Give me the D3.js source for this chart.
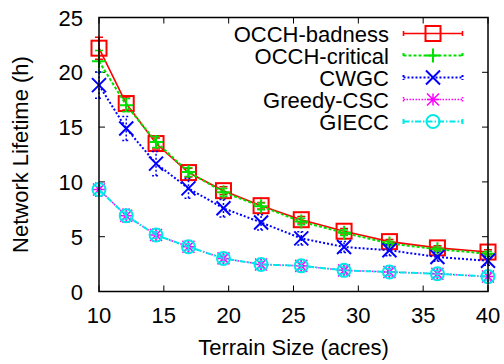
<!DOCTYPE html>
<html>
<head>
<meta charset="utf-8">
<script src="https://cdn.jsdelivr.net/npm/d3@7"></script>
<style>
  body { margin: 0; background: #fff; }
  text { font-family: "Liberation Sans", Arial, sans-serif; font-size: 22px; fill: #000; }
</style>
</head>
<body>
<div id="chart"></div>
<script>
// terrain sizes (acres)
const sizes = [10, 12.1, 14.4, 16.9, 19.6, 22.5, 25.6, 28.9, 32.4, 36.1, 40];

// lifetimes (h)
const occhBadness  = [22.2, 17.15, 13.5, 10.85, 9.2, 7.83, 6.55, 5.5, 4.55, 3.98, 3.6];
const occhCritical = [21.0, 17.0, 13.65, 10.9, 9.05, 7.77, 6.38, 5.36, 4.38, 3.86, 3.45];
const cwgc         = [18.83, 14.87, 11.67, 9.41, 7.59, 6.3, 4.85, 4.06, 3.76, 3.15, 2.8];
const greedyCsc    = [9.3, 6.92, 5.15, 4.08, 3.02, 2.47, 2.34, 1.93, 1.78, 1.62, 1.36];
const giecc        = [9.3, 6.92, 5.15, 4.08, 3.02, 2.47, 2.34, 1.93, 1.78, 1.62, 1.36];

// error bar half-widths
const errBadness  = [1.0, 0.6, 0.5, 0.4, 0.35, 0.3, 0.3, 0.25, 0.2, 0.2, 0.2];
const errCritical = [1.0, 0.6, 0.5, 0.4, 0.35, 0.3, 0.3, 0.25, 0.2, 0.2, 0.2];
const errCwgc     = [1.2, 1.1, 1.1, 0.9, 0.8, 0.7, 0.6, 0.5, 0.5, 0.4, 0.4];
const errGreedy   = [0.6, 0.6, 0.55, 0.5, 0.5, 0.45, 0.45, 0.4, 0.4, 0.4, 0.4];
const errGiecc    = [0.3, 0.3, 0.3, 0.3, 0.3, 0.3, 0.3, 0.3, 0.3, 0.3, 0.3];

const xTicks = [10, 15, 20, 25, 30, 35, 40];
const yTicks = [0, 5, 10, 15, 20, 25];

const W = 504, H = 364;
const margin = {top: 17.5, right: 16, bottom: 72.5, left: 99};
const width = W - margin.left - margin.right,
      height = H - margin.top - margin.bottom;

const series = [
  {name: "OCCH-badness", vals: occhBadness, err: errBadness, color: "#ff0000", dash: null, lw: 1.6, mark: "square"},
  {name: "OCCH-critical", vals: occhCritical, err: errCritical, color: "#00e000", dash: "3,2", lw: 2, mark: "plus"},
  {name: "CWGC", vals: cwgc, err: errCwgc, color: "#0000ff", dash: "2,2", lw: 2, mark: "cross"},
  {name: "Greedy-CSC", vals: greedyCsc, err: errGreedy, color: "#ff00ff", dash: "1.5,1.5", lw: 1.5, mark: "star"},
  {name: "GIECC", vals: giecc, err: errGiecc, color: "#00e8e8", dash: "6,2,1.5,2", lw: 2, mark: "circle"}
];

const svg = d3.select("#chart").append("svg")
  .attr("width", W).attr("height", H);

const g = svg.append("g")
  .attr("transform", "translate(" + margin.left + "," + margin.top + ")");

const x = d3.scaleLinear().domain([10, 40]).range([0, width]);
const y = d3.scaleLinear().domain([0, 25]).range([height, 0]);

// ticks (inside, mirrored)
const tk = 6;
xTicks.forEach(t => {
  g.append("line").attr("x1", x(t)).attr("x2", x(t)).attr("y1", height).attr("y2", height - tk)
    .attr("stroke", "#000").attr("stroke-width", 1);
  g.append("line").attr("x1", x(t)).attr("x2", x(t)).attr("y1", 0).attr("y2", tk)
    .attr("stroke", "#000").attr("stroke-width", 1);
  g.append("text").attr("x", x(t)).attr("y", height + 31)
    .attr("text-anchor", "middle").text(t);
});
yTicks.forEach(t => {
  g.append("line").attr("x1", 0).attr("x2", tk).attr("y1", y(t)).attr("y2", y(t))
    .attr("stroke", "#000").attr("stroke-width", 1);
  g.append("line").attr("x1", width).attr("x2", width - tk).attr("y1", y(t)).attr("y2", y(t))
    .attr("stroke", "#000").attr("stroke-width", 1);
  g.append("text").attr("x", -16).attr("y", y(t) + 8)
    .attr("text-anchor", "end").text(t);
});

// axis titles
svg.append("text").attr("x", margin.left + width / 2).attr("y", 355)
  .attr("text-anchor", "middle").text("Terrain Size (acres)");
svg.append("text")
  .attr("transform", "translate(28," + (margin.top + height / 2) + ") rotate(-90)")
  .attr("text-anchor", "middle").text("Network Lifetime (h)");

// marker drawing
function marker(sel, kind, color) {
  const s = 7;
  if (kind === "square") {
    sel.append("rect").attr("x", -s - 0.5).attr("y", -s - 0.5).attr("width", 2 * s + 1).attr("height", 2 * s + 1)
      .attr("fill", "none").attr("stroke", color).attr("stroke-width", 2);
  } else if (kind === "plus") {
    sel.append("path").attr("d", `M${-s},0H${s}M0,${-s}V${s}`)
      .attr("stroke", color).attr("stroke-width", 2).attr("fill", "none");
  } else if (kind === "cross") {
    sel.append("path").attr("d", `M${-s},${-s}L${s},${s}M${-s},${s}L${s},${-s}`)
      .attr("stroke", color).attr("stroke-width", 2).attr("fill", "none");
  } else if (kind === "star") {
    const r = 6;
    sel.append("path").attr("d", `M${-r},0H${r}M0,${-r}V${r}M${-r},${-r}L${r},${r}M${-r},${r}L${r},${-r}`)
      .attr("stroke", color).attr("stroke-width", 1.5).attr("fill", "none");
  } else if (kind === "circle") {
    sel.append("circle").attr("r", 6.5)
      .attr("fill", "none").attr("stroke", color).attr("stroke-width", 2);
  }
}

const line = d3.line().x(d => x(d[0])).y(d => y(d[1]));

series.forEach(s => {
  const pts = sizes.map((v, i) => [v, s.vals[i], s.err[i]]);
  const sg = g.append("g");
  sg.append("path").datum(pts).attr("d", line)
    .attr("fill", "none").attr("stroke", s.color).attr("stroke-width", s.lw)
    .attr("stroke-dasharray", s.dash);
  // error bars
  const cap = 4;
  pts.forEach(p => {
    const y1 = y(p[1] - p[2]), y2 = y(p[1] + p[2]), cx = x(p[0]);
    sg.append("path")
      .attr("d", `M${cx},${y1}V${y2}M${cx - cap},${y1}H${cx + cap}M${cx - cap},${y2}H${cx + cap}`)
      .attr("fill", "none").attr("stroke", s.color).attr("stroke-width", 1.5)
      .attr("stroke-dasharray", s.dash);
  });
  sg.selectAll(".m").data(pts).enter().append("g")
    .attr("transform", d => "translate(" + x(d[0]) + "," + y(d[1]) + ")")
    .each(function() { marker(d3.select(this), s.mark, s.color); });
});

// frame
g.append("rect").attr("width", width).attr("height", height)
  .attr("fill", "none").attr("stroke", "#000").attr("stroke-width", 1.5);

// legend
const lg = svg.append("g");
series.forEach((s, i) => {
  const ly = 33.5 + i * 22;
  lg.append("text").attr("x", 389).attr("y", ly + 8).attr("text-anchor", "end").text(s.name);
  lg.append("path").attr("d", `M403.5,${ly}H462.5M403.5,${ly - 2.5}V${ly + 2.5}M462.5,${ly - 2.5}V${ly + 2.5}`)
    .attr("stroke", s.color).attr("stroke-width", s.lw).attr("fill", "none")
    .attr("stroke-dasharray", s.dash);
  const mg = lg.append("g").attr("transform", "translate(433," + ly + ")");
  marker(mg, s.mark, s.color);
});
</script>
</body>
</html>
